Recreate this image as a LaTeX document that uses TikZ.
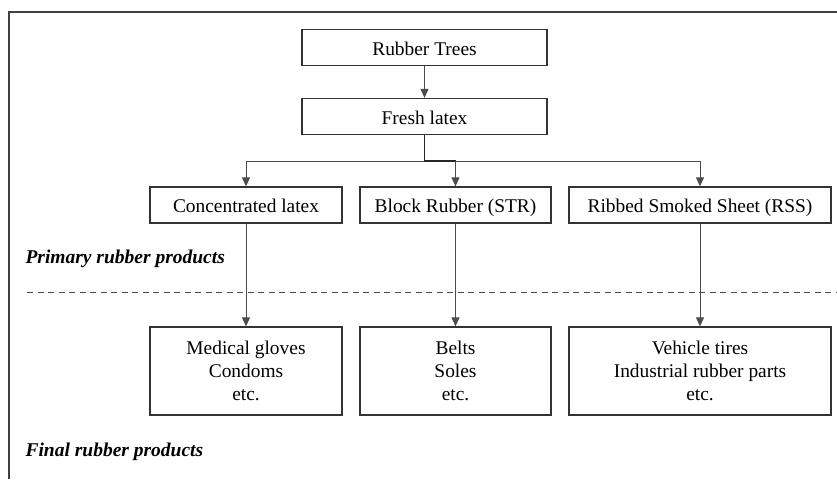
\documentclass[tikz,border=0pt]{standalone}
\usepackage{fontspec}
\setmainfont{Liberation Serif}
\usetikzlibrary{arrows.meta}
\begin{document}
\begin{tikzpicture}[x=1pt,y=-1pt,
  box/.style={draw=black!80,line width=1.3pt,inner sep=0pt,align=center,
    font=\fontsize{19.4}{23}\selectfont},
  rowbox/.style={box,minimum height=36pt,text height=16.5pt,text depth=1.5pt},
  prodbox/.style={box,minimum height=88pt},
  conn/.style={draw=black!70,line width=1pt},
  arr/.style={conn,-{Triangle[length=9pt,width=8pt]}},
  stem/.style={draw=black!85,line width=1.8pt},
  level/.style={anchor=west,font=\fontsize{19.5}{23}\selectfont\bfseries\itshape},
  frame/.style={draw=black!75,line width=1.3pt}]
\useasboundingbox (0,0) rectangle (837,479);
\fill[white] (0,0) rectangle (837,479);

% outer frame (left and top edges)
\draw[frame] (9,479) -- (9,12) -- (837,12);

% source chain
\node[rowbox,minimum width=245pt] (trees) at (424.5,47.5) {Rubber Trees};
\node[rowbox,minimum width=245pt] (fresh) at (424.5,116.5) {Fresh latex};

% primary products
\node[rowbox,minimum width=192pt] (conc) at (246,205) {Concentrated latex};
\node[rowbox,minimum width=191pt] (block) at (455.5,205) {Block Rubber (STR)};
\node[rowbox,minimum width=262pt] (rss) at (700,205) {Ribbed Smoked Sheet (RSS)};

% final products
\node[prodbox,minimum width=192pt] (gloves) at (246,371) {Medical gloves\\Condoms\\etc.};
\node[prodbox,minimum width=191pt] (belts) at (455.5,371) {Belts\\Soles\\etc.};
\node[prodbox,minimum width=262pt] (tires) at (700,371) {Vehicle tires\\Industrial rubber parts\\etc.};

% level labels
\node[level] (primary) at (22,259) {Primary rubber products};
\node[level] (final) at (22,452) {Final rubber products};

% boundary between levels
\coordinate (dl) at (27,292);
\coordinate (dr) at (837,292);
\draw[conn,dash pattern=on 6pt off 4.5pt] (dl) -- (dr);

% connectors
\draw[arr] (trees.south) -- (fresh.north);
\coordinate (j) at (fresh.south |- 0,161);
\draw[conn] (j -| conc.north) -- (j -| rss.north);
\draw[arr] (j -| conc.north) -- (conc.north);
\draw[arr] (j -| rss.north) -- (rss.north);
\draw[stem] (fresh.south) -- (j) -- (j -| block.north);
\draw[arr] (j -| block.north) -- (block.north);

\draw[arr] (conc.south) -- (gloves.north);
\draw[arr] (block.south) -- (belts.north);
\draw[arr] (rss.south) -- (tires.north);
\end{tikzpicture}
\end{document}
